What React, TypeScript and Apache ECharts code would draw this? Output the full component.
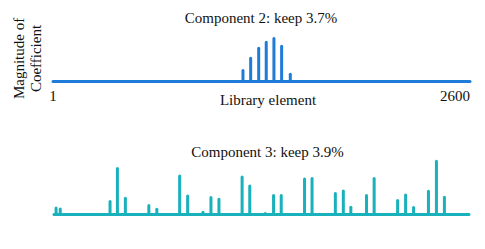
import React, { useEffect, useRef } from "react";
import * as echarts from "echarts";

const topIndices = [1185, 1233, 1283, 1330, 1378, 1426, 1480];
const topValues = [12, 24.3, 34.3, 40.3, 44, 36.3, 8.3];

const bottomIndices = [
  14, 40, 352, 398, 448, 595, 645, 788, 838, 934, 984, 1034, 1179, 1227, 1324,
  1376, 1424, 1570, 1617, 1763, 1813, 1860, 1958, 2006, 2153, 2203, 2253, 2346,
  2396, 2446,
];
const bottomValues = [
  7.6, 6.6, 14, 47, 17.3, 10, 6.3, 39.6, 19.6, 3.3, 18, 16.3, 38.6, 29.6, 2, 20,
  20, 36.6, 37, 22, 24.6, 8.3, 20, 37, 15, 20.6, 8, 24.3, 54.3, 18.3,
];

const xTickLabels = [1, 2600];
const titles = ["Component 2: keep 3.7%", "Component 3: keep 3.9%"];
const xName = "Library element";
const yName = "Magnitude of\nCoefficient";

const BLUE = "#1f7bd8";
const TEAL = "#19b1bc";
const FONT = "'Liberation Serif', 'Times New Roman', serif";

export default function App() {
  const ref = useRef<HTMLDivElement>(null);
  useEffect(() => {
    document.body.style.margin = "0";
    if (!ref.current) return;
    const chart = echarts.init(ref.current, null, { renderer: "svg" });
    const pair = (xs: number[], ys: number[]) => xs.map((x, i) => [x, ys[i]]);
    chart.setOption({
      animation: false,
      grid: [
        { left: 53, right: 15, top: 31, bottom: 168 },
        { left: 54, right: 16, top: 154, bottom: 35 },
      ],
      xAxis: [
        {
          gridIndex: 0,
          type: "value",
          min: xTickLabels[0],
          max: xTickLabels[1],
          splitLine: { show: false },
          axisTick: { show: false },
          axisLine: { show: true, lineStyle: { color: BLUE, width: 3 } },
          axisLabel: {
            show: true,
            customValues: xTickLabels,
            formatter: (v: number) => String(v),
            showMinLabel: true,
            showMaxLabel: true,
            alignMaxLabel: "right",
            margin: 7,
            color: "#111",
            fontFamily: FONT,
            fontSize: 15,
          },
        },
        {
          gridIndex: 1,
          type: "value",
          min: xTickLabels[0],
          max: xTickLabels[1],
          splitLine: { show: false },
          axisTick: { show: false },
          axisLabel: { show: false },
          axisLine: { show: true, lineStyle: { color: TEAL, width: 3 } },
        },
      ],
      yAxis: [
        { gridIndex: 0, type: "value", min: 0, max: 50, show: false },
        { gridIndex: 1, type: "value", min: 0, max: 60, show: false },
      ],
      series: [
        {
          type: "bar",
          xAxisIndex: 0,
          yAxisIndex: 0,
          barWidth: 3,
          data: pair(topIndices, topValues),
          itemStyle: { color: BLUE, borderRadius: [1.5, 1.5, 0, 0] },
        },
        {
          type: "bar",
          xAxisIndex: 1,
          yAxisIndex: 1,
          barWidth: 3,
          data: pair(bottomIndices, bottomValues),
          itemStyle: { color: TEAL, borderRadius: [1.5, 1.5, 0, 0] },
        },
      ],
      graphic: [
        {
          type: "text",
          x: 261,
          y: 17.5,
          style: {
            text: titles[0],
            fill: "#111",
            font: `15px ${FONT}`,
            align: "center",
            verticalAlign: "middle",
          },
        },
        {
          type: "text",
          x: 268,
          y: 100,
          style: {
            text: xName,
            fill: "#111",
            font: `15px ${FONT}`,
            align: "center",
            verticalAlign: "middle",
          },
        },
        {
          type: "text",
          x: 267.5,
          y: 152,
          style: {
            text: titles[1],
            fill: "#111",
            font: `15px ${FONT}`,
            align: "center",
            verticalAlign: "middle",
          },
        },
        {
          type: "text",
          x: 27,
          y: 58.5,
          rotation: Math.PI / 2,
          style: {
            text: yName,
            fill: "#111",
            font: `15px ${FONT}`,
            lineHeight: 17,
            align: "center",
            verticalAlign: "middle",
          },
        },
      ],
    });
    return () => chart.dispose();
  }, []);
  return <div ref={ref} style={{ width: 485, height: 249 }} />;
}
